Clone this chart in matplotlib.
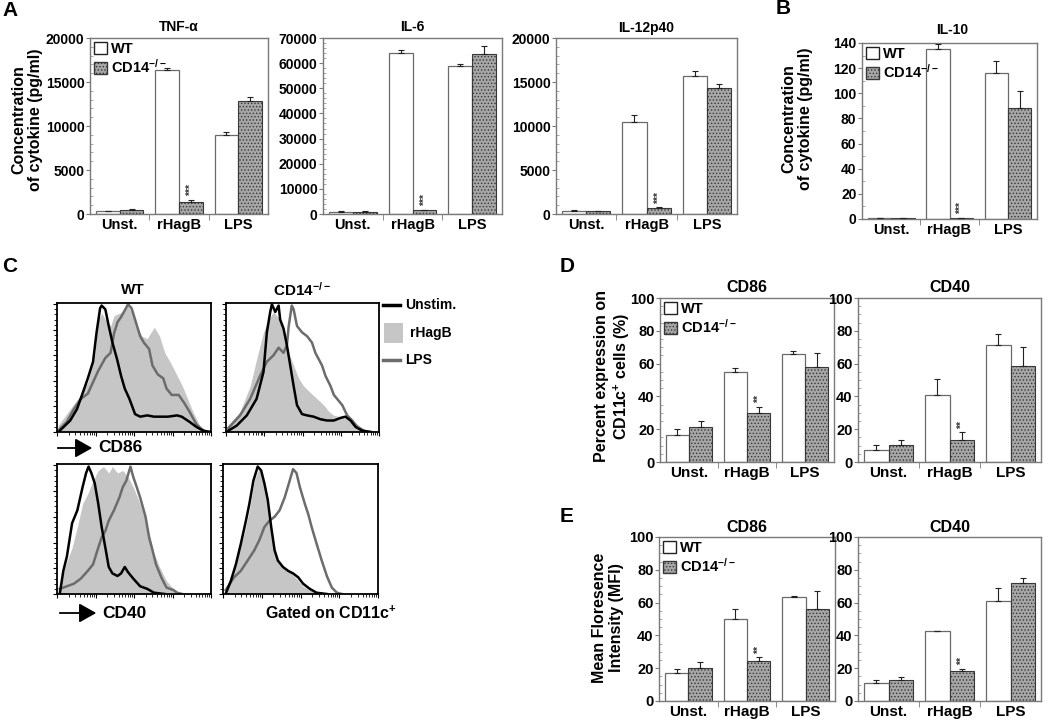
import numpy as np
import matplotlib
matplotlib.use('Agg')
import matplotlib.pyplot as plt
from matplotlib.patches import Patch, Rectangle, FancyArrowPatch
from matplotlib.lines import Line2D
from matplotlib.ticker import MultipleLocator, AutoMinorLocator, FixedLocator

plt.rcParams['font.family'] = ['Liberation Sans', 'DejaVu Sans']
plt.rcParams['font.weight'] = 'bold'
plt.rcParams['mathtext.fontset'] = 'custom'
plt.rcParams['mathtext.rm'] = 'Liberation Sans:bold'
plt.rcParams['mathtext.it'] = 'Liberation Sans:bold'
plt.rcParams['mathtext.bf'] = 'Liberation Sans:bold'
plt.rcParams['hatch.linewidth'] = 0.6

# ---- bar data (A, B, D, E) ----
groups = ['Unst.', 'rHagB', 'LPS']

tnf_wt = [300, 16350, 9000]
tnf_wt_err = [60, 250, 300]
tnf_ko = [490, 1350, 12800]
tnf_ko_err = [60, 250, 480]

il6_wt = [900, 64000, 59000]
il6_wt_err = [150, 1200, 800]
il6_ko = [900, 1400, 63800]
il6_ko_err = [150, 300, 3000]

il12_wt = [390, 10450, 15700]
il12_wt_err = [60, 800, 600]
il12_ko = [330, 650, 14300]
il12_ko_err = [60, 100, 500]

il10_wt = [0.8, 135, 116]
il10_wt_err = [0.2, 4, 10]
il10_ko = [0.8, 0.8, 88]
il10_ko_err = [0.2, 0.2, 14]

pct_cd86_wt = [16.7, 55.1, 65.9]
pct_cd86_wt_err = [3.7, 2.0, 1.9]
pct_cd86_ko = [21.4, 30.0, 58.2]
pct_cd86_ko_err = [3.6, 3.7, 8.1]
pct_cd40_wt = [7.1, 40.8, 71.6]
pct_cd40_wt_err = [3.5, 9.6, 6.4]
pct_cd40_ko = [10.2, 13.5, 58.8]
pct_cd40_ko_err = [3.5, 4.7, 11.6]

mfi_cd86_wt = [16.8, 49.7, 63.5]
mfi_cd86_wt_err = [2.9, 6.1, 0.6]
mfi_cd86_ko = [20.3, 24.3, 56.4]
mfi_cd86_ko_err = [3.6, 2.3, 10.7]
mfi_cd40_wt = [11.0, 42.6, 61.1]
mfi_cd40_wt_err = [1.6, 0.3, 8.1]
mfi_cd40_ko = [12.6, 18.5, 72.0]
mfi_cd40_ko_err = [1.8, 1.2, 3.3]

# ---- histogram data (C), x in % of log axis, y in % of max ----
wt86_unst_x = [1.8, 8.6, 13, 17.7, 20, 23.4, 25.7, 28, 29, 31.4, 33.6, 36, 39, 41.6, 44, 47, 50.7, 54, 58.6, 63, 67.7, 72, 78, 81, 86, 90.5, 95, 99.5]
wt86_unst_y = [1, 9, 18, 34, 42, 55, 78, 97, 99, 96, 83, 70, 57, 44, 34, 26, 14, 12, 13, 12, 12, 12, 13, 12, 8, 4, 1, 0]
wt86_lps_x = [0.7, 6.4, 11, 15.5, 20, 23.4, 26.8, 31.4, 34.8, 37, 39.3, 41.6, 43.9, 46.1, 48.4, 50.7, 54, 56.4, 59.8, 62, 65.5, 69, 71.1, 74.5, 79, 82.5, 86, 90.5, 95, 99.5]
wt86_lps_y = [1, 8, 18, 26, 30, 39, 48, 58, 62, 77, 86, 90, 95, 100, 97, 88, 75, 70, 65, 52, 45, 42, 34, 29, 29, 23, 16, 6, 1, 0]
wt86_hag_x = [0.7, 8.6, 15.5, 20, 24.5, 26.8, 29, 31.4, 34.8, 37, 40.5, 43.9, 46.1, 48.4, 51.8, 55.2, 58.6, 61, 63.2, 66.6, 70, 73.4, 76.8, 81.4, 84.8, 88.2, 92.7, 97.3]
wt86_hag_y = [5, 18, 29, 39, 60, 88, 93, 88, 83, 91, 93, 95, 99, 94, 83, 75, 73, 78, 82, 75, 62, 55, 47, 36, 26, 16, 5, 1]

ko86_unst_x = [1.5, 7, 13.6, 20, 24.5, 26.7, 28.9, 30, 32.2, 34.4, 35.4, 37.6, 39.8, 42, 44.2, 46.4, 49.7, 53, 57.3, 61.7, 66, 70.5, 74.8, 78, 81.4, 84.7, 89, 94.5]
ko86_unst_y = [1, 5, 13, 26, 47, 78, 94, 100, 94, 99, 88, 81, 68, 52, 36, 21, 14, 13, 12, 10, 9, 9, 11, 12, 9, 4, 1, 0]
ko86_lps_x = [1.5, 9.2, 15.8, 22.3, 26.7, 31, 34.4, 37.6, 39.8, 41, 43, 44.2, 46.4, 49.7, 53, 56.2, 58.4, 60.6, 62.8, 65, 68.3, 70.5, 72.6, 76, 79.2, 82.5, 85.8, 90, 94.5]
ko86_lps_y = [3, 13, 26, 44, 55, 60, 66, 62, 68, 83, 99, 96, 83, 78, 75, 70, 62, 57, 52, 44, 36, 29, 26, 21, 13, 9, 4, 1, 0]
ko86_hag_x = [0.4, 9.2, 15.8, 20, 24.5, 27.8, 31, 35.4, 38.7, 41, 44.2, 47.5, 50.8, 55, 59.5, 64, 67.2, 70.5, 74.8, 79.2, 83.6, 88, 92.3]
ko86_hag_y = [4, 16, 36, 57, 78, 88, 94, 88, 73, 62, 52, 42, 36, 31, 26, 21, 16, 13, 12, 10, 8, 4, 1]

wt40_unst_x = [1.8, 4.1, 6.4, 9.8, 13.2, 16.6, 18.9, 20.5, 22.3, 24.5, 26.8, 29, 31.4, 33.6, 36, 39.3, 41.6, 44, 46.1, 49.5, 54, 58.6, 63, 70]
wt40_unst_y = [0, 18, 29, 55, 65, 83, 94, 99, 94, 86, 70, 52, 36, 21, 16, 14, 16, 21, 17, 12, 6, 4, 1, 0]
wt40_lps_x = [1.8, 6.4, 11, 15.5, 20, 23.4, 26.8, 29, 31.4, 33.6, 37, 40.5, 42.7, 45, 47.7, 49.5, 51.8, 54, 57.5, 59.8, 62, 64.3, 67.7, 71.1, 75.7, 78, 81.4]
wt40_lps_y = [4, 6, 8, 12, 18, 23, 36, 44, 49, 57, 65, 75, 83, 88, 99, 91, 83, 75, 60, 44, 34, 23, 13, 5, 3, 1, 0]
wt40_hag_x = [0.7, 5.2, 9.8, 13.2, 16.6, 20, 23.4, 26.8, 30.2, 33.6, 36, 39.3, 42.7, 46.1, 49.5, 53, 56.4, 59.8, 63.2, 66.6, 71.1, 75.7, 79]
wt40_hag_y = [3, 21, 36, 52, 70, 78, 88, 96, 99, 94, 99, 94, 96, 91, 83, 73, 62, 47, 31, 21, 10, 4, 1]

ko40_unst_x = [1.7, 5, 8.3, 11.5, 14.8, 17, 19.6, 22.4, 24.6, 26.7, 28.9, 31.1, 33.3, 35.4, 38.7, 42, 45.2, 48.5, 51.7, 56, 60.4, 67]
ko40_unst_y = [0, 10, 23, 39, 57, 70, 88, 99, 96, 86, 73, 52, 34, 26, 21, 18, 16, 13, 8, 4, 1, 0]
ko40_lps_x = [1.7, 7.2, 11.5, 15.9, 20.2, 23.5, 26.7, 30, 33.3, 36.5, 39.8, 43, 45.2, 47.4, 49.6, 52.8, 55, 57.2, 60.4, 63.7, 67, 70.2, 73.5, 76.7]
ko40_lps_y = [3, 13, 18, 26, 34, 42, 52, 57, 60, 65, 75, 88, 97, 94, 83, 70, 62, 52, 39, 26, 14, 5, 1, 0]
ko40_hag_x = [0.7, 5, 9.3, 13.7, 17, 20.2, 23, 25.7, 27.8, 30, 32.2, 35.4, 38.7, 43, 47.4, 51.7, 56, 60.4]
ko40_hag_y = [1, 12, 29, 47, 65, 88, 97, 91, 78, 55, 39, 26, 21, 17, 12, 6, 3, 1]

W, H = 1050, 724
fig = plt.figure(figsize=(10.5, 7.24), dpi=100)


def box(x0, y0, x1, y1):
    return [x0 / W, 1 - y1 / H, (x1 - x0) / W, (y1 - y0) / H]


def ftext(x, y, s, **kw):
    fig.text(x / W, 1 - y / H, s, **kw)


spine_c = '#7a7a7a'
ko_face = '#a6a6a6'
ko_edge = '#383838'


def bar_panel(rect, wt, wt_err, ko, ko_err, ymax, step, nminor, stars, fs, legend=False, lfs=10.5):
    ax = fig.add_axes(rect)
    x = np.arange(len(groups))
    ax.bar(x - 0.2, wt, 0.4, color='white', edgecolor='#6a6a6a', linewidth=0.9, zorder=2)
    ax.bar(x + 0.2, ko, 0.4, color=ko_face, edgecolor=ko_edge, hatch='.....', linewidth=0.8, zorder=2)
    ax.errorbar(x - 0.2, wt, yerr=[np.zeros(3), wt_err], fmt='none', ecolor='#222222',
                elinewidth=0.8, capsize=2, capthick=0.8, zorder=3)
    ax.errorbar(x + 0.2, ko, yerr=[np.zeros(3), ko_err], fmt='none', ecolor='#222222',
                elinewidth=0.8, capsize=2, capthick=0.8, zorder=3)
    ax.text(1.2, ko[1] + ko_err[1] + ymax * 0.02, stars, rotation=90, ha='center', va='bottom',
            fontsize=7.5, color='#333333')
    ax.set_xlim(-0.5, 2.5)
    ax.set_ylim(0, ymax)
    for s in ax.spines.values():
        s.set_color(spine_c)
        s.set_linewidth(1.0)
    ax.yaxis.set_major_locator(MultipleLocator(step))
    ax.yaxis.set_minor_locator(AutoMinorLocator(nminor))
    ax.tick_params(axis='y', which='major', direction='out', length=3, color=spine_c,
                   labelsize=fs, pad=1)
    ax.tick_params(axis='y', which='minor', direction='in', length=2, color='#999999')
    ax.set_xticks([0, 1, 2])
    ax.set_xticklabels(groups)
    ax.xaxis.set_minor_locator(FixedLocator([0.5, 1.5]))
    ax.tick_params(axis='x', which='major', length=0, labelsize=fs + 0.5, pad=3)
    ax.tick_params(axis='x', which='minor', direction='out', length=4, color=spine_c)
    if legend:
        handles = [Patch(facecolor='white', edgecolor='#222222'),
                   Patch(facecolor=ko_face, edgecolor=ko_edge, hatch='.....')]
        ax.legend(handles, ['WT', 'CD14$^{-/-}$'], loc='upper left', frameon=False,
                  handlelength=0.9, handleheight=0.9, handletextpad=0.3, labelspacing=0.15,
                  borderaxespad=0.15, borderpad=0.1, fontsize=lfs)
    return ax


def hist_panel(rect, fx, fy, ux, uy, lx, ly):
    ax = fig.add_axes(rect)
    ax.fill_between(fx, fy, color='#c6c6c6', lw=0, zorder=1)
    ax.plot(lx, ly, color='#6c6c6c', lw=1.8, zorder=2)
    ax.plot(ux, uy, color='black', lw=1.8, zorder=3)
    ax.set_xlim(0, 100)
    ax.set_ylim(0, 101)
    for s in ax.spines.values():
        s.set_color('black')
        s.set_linewidth(1.3)
    ax.xaxis.set_major_locator(FixedLocator([0, 25, 50, 75, 100]))
    ax.xaxis.set_minor_locator(FixedLocator([25 * (d + np.log10(k)) for d in range(4) for k in range(2, 10)]))
    ax.yaxis.set_major_locator(MultipleLocator(20))
    ax.yaxis.set_minor_locator(MultipleLocator(4))
    ax.tick_params(which='major', direction='out', length=3, width=0.8, labelbottom=False, labelleft=False)
    ax.tick_params(which='minor', direction='out', length=2, width=0.6)
    return ax


# ---- panel A ----
bar_panel(box(90, 38, 268, 214), tnf_wt, tnf_wt_err, tnf_ko, tnf_ko_err, 20000, 5000, 5, '***', 10,
          legend=True)
bar_panel(box(323, 38, 502, 214), il6_wt, il6_wt_err, il6_ko, il6_ko_err, 70000, 10000, 5, '***', 10)
bar_panel(box(556, 38, 737, 214), il12_wt, il12_wt_err, il12_ko, il12_ko_err, 20000, 5000, 5, '***', 10)
ftext(179, 27, 'TNF-α', ha='center', va='center', fontsize=10)
ftext(412, 27, 'IL-6', ha='center', va='center', fontsize=10)
ftext(646, 28, 'IL-12p40', ha='center', va='center', fontsize=10)
ftext(27, 120, 'Concentration\nof cytokine (pg/ml)', rotation=90, ha='center', va='center',
      fontsize=11.5, linespacing=1.15)

# ---- panel B ----
bar_panel(box(862, 43, 1037, 219), il10_wt, il10_wt_err, il10_ko, il10_ko_err, 140, 20, 2, '***', 10,
          legend=True)
ftext(952, 30, 'IL-10', ha='center', va='center', fontsize=10)
ftext(797, 119, 'Concentration\nof cytokine (pg/ml)', rotation=90, ha='center', va='center',
      fontsize=11.5, linespacing=1.15)

# ---- panel C ----
hist_panel(box(57, 303, 211, 432), wt86_hag_x, wt86_hag_y, wt86_unst_x, wt86_unst_y, wt86_lps_x, wt86_lps_y)
hist_panel(box(226, 303, 379, 432), ko86_hag_x, ko86_hag_y, ko86_unst_x, ko86_unst_y, ko86_lps_x, ko86_lps_y)
hist_panel(box(57, 464, 211, 594), wt40_hag_x, wt40_hag_y, wt40_unst_x, wt40_unst_y, wt40_lps_x, wt40_lps_y)
hist_panel(box(223, 464, 378, 594), ko40_hag_x, ko40_hag_y, ko40_unst_x, ko40_unst_y, ko40_lps_x, ko40_lps_y)
ftext(133, 290, 'WT', ha='center', va='center', fontsize=11)
ftext(302, 290, 'CD14$^{-/-}$', ha='center', va='center', fontsize=11)

fig.add_artist(Line2D([383 / W, 400 / W], [1 - 305 / H] * 2, color='black', lw=2.5))
fig.add_artist(Rectangle((384 / W, 1 - 343 / H), 19 / W, 20 / H, transform=fig.transFigure,
                         facecolor='#c6c6c6', edgecolor='none'))
fig.add_artist(Line2D([383 / W, 400 / W], [1 - 360 / H] * 2, color='#6c6c6c', lw=2.5))
ftext(405, 305, 'Unstim.', ha='left', va='center', fontsize=10)
ftext(410, 333, 'rHagB', ha='left', va='center', fontsize=10)
ftext(405, 360, 'LPS', ha='left', va='center', fontsize=10)

for x0, x1, y, lab, tx in [(55, 95, 448, 'CD86', 98), (57, 99, 613, 'CD40', 102)]:
    fig.add_artist(FancyArrowPatch((x0 / W, 1 - y / H), (x1 / W, 1 - y / H), transform=fig.transFigure,
                                   arrowstyle='-|>,head_length=0.8,head_width=0.45', mutation_scale=13,
                                   color='black', lw=1.3))
    ftext(tx, y, lab, ha='left', va='center', fontsize=12.5)
ftext(265, 613, 'Gated on CD11c$^{+}$', ha='left', va='center', fontsize=11.5)

# ---- panel D ----
bar_panel(box(660, 298, 834, 462), pct_cd86_wt, pct_cd86_wt_err, pct_cd86_ko, pct_cd86_ko_err, 100, 20, 4,
          '**', 10.5, legend=True)
bar_panel(box(858, 298, 1041, 462), pct_cd40_wt, pct_cd40_wt_err, pct_cd40_ko, pct_cd40_ko_err, 100, 20, 4,
          '**', 10.5)
ftext(747, 288, 'CD86', ha='center', va='center', fontsize=11.5)
ftext(950, 288, 'CD40', ha='center', va='center', fontsize=11.5)
ftext(613, 376, 'Percent expression on\nCD11c$^{+}$ cells (%)', rotation=90, ha='center', va='center',
      fontsize=11.5, linespacing=1.15)

# ---- panel E ----
bar_panel(box(659, 537, 835, 701), mfi_cd86_wt, mfi_cd86_wt_err, mfi_cd86_ko, mfi_cd86_ko_err, 100, 20, 4,
          '**', 10.5, legend=True)
bar_panel(box(858, 537, 1041, 701), mfi_cd40_wt, mfi_cd40_wt_err, mfi_cd40_ko, mfi_cd40_ko_err, 100, 20, 4,
          '**', 10.5)
ftext(747, 527, 'CD86', ha='center', va='center', fontsize=11.5)
ftext(950, 527, 'CD40', ha='center', va='center', fontsize=11.5)
ftext(608, 618, 'Mean Floresence\nIntensity (MFI)', rotation=90, ha='center', va='center',
      fontsize=11.5, linespacing=1.15)

# panel letters
for lab, x, y in [('A', 10, 11), ('B', 783, 9), ('C', 10, 266), ('D', 567, 267), ('E', 567, 516)]:
    ftext(x, y, lab, ha='center', va='center', fontsize=15)

fig.savefig('out.png', dpi=100)
